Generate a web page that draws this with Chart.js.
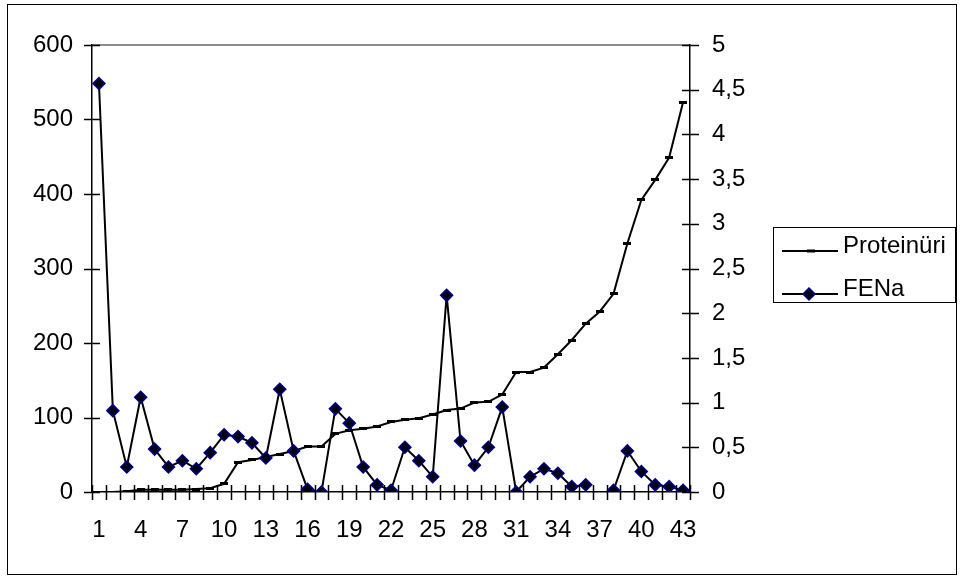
<!DOCTYPE html>
<html><head><meta charset="utf-8">
<script src="https://cdn.jsdelivr.net/npm/chart.js@4.4.1/dist/chart.umd.min.js"></script>
<style>html,body{margin:0;padding:0;background:#fff}#wrap{width:964px;height:576px;position:relative}</style>
</head><body><div id="wrap"><canvas id="c" width="964" height="576"></canvas></div>
<script>
const categories = ['1','2','3','4','5','6','7','8','9','10','11','12','13','14','15','16','17','18','19','20','21','22','23','24','25','26','27','28','29','30','31','32','33','34','35','36','37','38','39','40','41','42','43'];
const proteinuri = [0,0,1,3,3,3,3,4,5,11,40,43,47,51,55,61,61,78,83,85,88,94,97,99,104,110,112,120,121,131,161,161,167,185,204,226,242,266,334,392,419,449,523];
const fena = [4.57,0.91,0.28,1.06,0.48,0.28,0.35,0.26,0.44,0.64,0.62,0.55,0.38,1.15,0.46,0.03,0,0.93,0.77,0.28,0.08,0.02,0.50,0.35,0.17,2.20,0.57,0.30,0.50,0.95,0,0.17,0.26,0.21,0.06,0.08,null,0.02,0.46,0.23,0.08,0.06,0.02];
const leftTicks = [0,100,200,300,400,500,600];
const rightTickLabels = ['0','0,5','1','1,5','2','2,5','3','3,5','4','4,5','5'];
const seriesNames = ['Proteinüri','FENa'];

const FONT = {family: "'Liberation Sans', Arial, sans-serif", size: 24};

// dash marker for Proteinüri
const dash = document.createElement('canvas');
dash.width = 8; dash.height = 3;
(function(){const g = dash.getContext('2d'); g.fillStyle = '#000'; g.fillRect(0,0,8,3);})();

const tickPlugin = {
  id: 'crossTicks',
  beforeDatasetsDraw(chart) {
    const ctx = chart.ctx;
    const x = chart.scales.x, y = chart.scales.y, y1 = chart.scales.y1;
    ctx.save();
    ctx.strokeStyle = '#000';
    ctx.lineWidth = 1.5;
    ctx.beginPath();
    y.ticks.forEach(t => {
      const py = Math.round(y.getPixelForValue(t.value)) + 0.5;
      ctx.moveTo(y.right - 8, py); ctx.lineTo(y.right + 8, py);
    });
    y1.ticks.forEach(t => {
      const py = Math.round(y1.getPixelForValue(t.value)) + 0.5;
      ctx.moveTo(y1.left - 8, py); ctx.lineTo(y1.left + 9, py);
    });
    const n = categories.length;
    for (let i = 0; i <= n; i++) {
      let px;
      if (i === 0) px = x.left;
      else if (i === n) px = x.right;
      else px = (x.getPixelForValue(i - 1) + x.getPixelForValue(i)) / 2;
      px = Math.round(px) + 0.5;
      ctx.moveTo(px, x.top - 7); ctx.lineTo(px, x.top + 8);
    }
    ctx.stroke();
    ctx.restore();
  },
  afterDraw(chart) {
    const ctx = chart.ctx;
    ctx.save();
    // outer frame
    ctx.strokeStyle = '#000';
    ctx.lineWidth = 1;
    ctx.strokeRect(7.5, 4.5, 949, 570);
    // legend box
    ctx.strokeRect(773.5, 227.5, 182, 75);
    ctx.font = "24px 'Liberation Sans', Arial, sans-serif";
    ctx.fillStyle = '#000';
    ctx.textBaseline = 'alphabetic';
    ctx.textAlign = 'left';
    const rows = [251, 294];
    rows.forEach((ly, i) => {
      ctx.strokeStyle = '#000';
      ctx.lineWidth = 2;
      ctx.beginPath(); ctx.moveTo(782, ly); ctx.lineTo(838, ly); ctx.stroke();
      if (i === 0) {
        ctx.fillRect(807, ly - 1.5, 8, 3);
      } else {
        ctx.beginPath();
        ctx.moveTo(809 - 6, ly); ctx.lineTo(809, ly - 6); ctx.lineTo(809 + 6, ly); ctx.lineTo(809, ly + 6); ctx.closePath();
        ctx.fillStyle = '#000010'; ctx.fill();
        ctx.strokeStyle = '#00008B'; ctx.lineWidth = 1.5; ctx.stroke();
        ctx.fillStyle = '#000';
      }
      ctx.fillText(seriesNames[i], 843, ly + 2);
    });
    ctx.restore();
  }
};

new Chart(document.getElementById('c'), {
  type: 'line',
  data: {
    labels: categories,
    datasets: [
      {
        label: seriesNames[0], data: proteinuri, yAxisID: 'y', order: 1,
        borderColor: '#000', borderWidth: 2, pointStyle: dash, pointRadius: 4,
        backgroundColor: '#000', tension: 0, fill: false
      },
      {
        label: seriesNames[1], data: fena, yAxisID: 'y1', order: 0,
        borderColor: '#000', borderWidth: 2, pointStyle: 'rectRot', pointRadius: 6,
        pointBackgroundColor: '#000010', pointBorderColor: '#00008B', pointBorderWidth: 1.5,
        tension: 0, fill: false, spanGaps: false
      }
    ]
  },
  options: {
    responsive: false, animation: false, devicePixelRatio: 1,
    layout: {padding: {top: 45, left: 0, right: 0, bottom: 0}},
    plugins: {legend: {display: false}, tooltip: {enabled: false}},
    scales: {
      x: {
        type: 'category', offset: true,
        grid: {display: false, drawTicks: false},
        border: {display: true, color: '#000', width: 1.5},
        ticks: {
          autoSkip: false, maxRotation: 0, minRotation: 0, padding: 24, color: '#000', font: FONT,
          callback: (v, i) => (i % 3 === 0 ? categories[i] : '')
        },
        afterFit: s => { s.height = 84; }
      },
      y: {
        position: 'left', min: leftTicks[0], max: leftTicks[leftTicks.length - 1],
        afterBuildTicks: s => { s.ticks = leftTicks.map(v => ({value: v})); },
        grid: {drawTicks: false, lineWidth: 2, color: c => (c.tick && c.tick.value === 600 ? '#8c8c8c' : 'rgba(0,0,0,0)')},
        border: {display: true, color: '#000', width: 1.5},
        ticks: {padding: 19, color: '#000', font: FONT},
        afterFit: s => { s.width = 92; }
      },
      y1: {
        position: 'right', min: 0, max: 5,
        ticks: {stepSize: 0.5, padding: 22, color: '#000', font: FONT, callback: (v, i) => rightTickLabels[i]},
        grid: {drawOnChartArea: false, drawTicks: false},
        border: {display: true, color: '#000', width: 1.5},
        afterFit: s => { s.width = 274; }
      }
    }
  },
  plugins: [tickPlugin]
});
</script></body></html>
